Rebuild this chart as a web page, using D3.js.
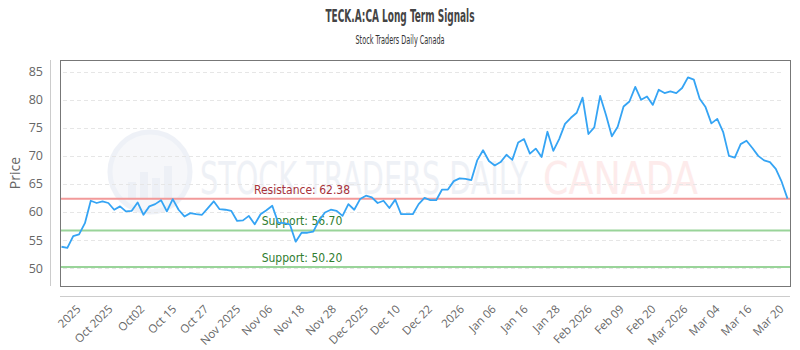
<!DOCTYPE html>
<html>
<head>
<meta charset="utf-8">
<script src="https://cdn.jsdelivr.net/npm/d3@7"></script>
<style>
  body { margin: 0; background: #fff; }
  svg { display: block; }
</style>
</head>
<body>
<script>
// closing prices, one per trading day
var prices = [
  53.8, 53.6, 55.7, 56.0, 58.0, 62.0, 61.6, 61.9, 61.6, 60.4,
  61.0, 60.1, 60.2, 61.7, 59.5, 61.0, 61.4, 62.1, 60.1, 62.3,
  60.4, 59.2, 59.8, 59.6, 59.5, 60.7, 61.9, 60.5, 60.4, 60.2,
  58.4, 58.5, 59.3, 57.8, 59.6, 60.3, 61.1, 58.1, 58.0, 57.8,
  54.7, 56.3, 56.3, 56.5, 58.5, 59.9, 60.4, 60.2, 59.3, 61.4,
  60.4, 62.3, 62.9, 62.6, 61.6, 62.0, 60.7, 62.2, 59.6, 59.6,
  59.6, 61.4, 62.5, 62.1, 62.1, 64.0, 64.0, 65.5, 66.0, 65.9,
  65.7, 69.2, 71.0, 69.1, 68.3, 68.9, 70.2, 69.3, 72.4, 73.0,
  70.4, 71.3, 69.8, 74.3, 70.9, 73.0, 75.7, 76.8, 77.7, 80.4,
  73.9, 75.1, 80.7, 77.3, 73.5, 75.2, 78.8, 79.7, 82.3, 80.0,
  80.6, 79.1, 81.8, 81.2, 81.5, 81.2, 82.1, 84.0, 83.6, 80.2,
  78.7, 75.8, 76.6, 74.3, 70.0, 69.7, 72.1, 72.7, 71.4, 70.0,
  69.2, 68.9, 67.7, 65.4, 62.38
];

var dateLabels = ["2025", "Oct 2025", "Oct02", "Oct 15", "Oct 27", "Nov 2025", "Nov 06",
  "Nov 18", "Nov 28", "Dec 2025", "Dec 10", "Dec 22", "2026", "Jan 06", "Jan 16",
  "Jan 28", "Feb 2026", "Feb 09", "Feb 20", "Mar 2026", "Mar 04", "Mar 16", "Mar 20"];

var yTicks = [50, 55, 60, 65, 70, 75, 80, 85];

var levelNames = ["Resistance", "Support", "Support"];
var levelValues = [62.38, 56.70, 50.20];

var width = 800, height = 350;
var plot = { left: 60, right: 790, top: 60, bottom: 286 };

var svg = d3.select("body")
    .append("svg")
    .attr("width", width)
    .attr("height", height)
    .style("font-family", "'Open Sans', sans-serif");

var x = d3.scaleLinear()
    .domain([0, prices.length - 1])
    .range([61.5, 787.5]);

var y = d3.scaleLinear()
    .domain([46.8, 87.1])
    .range([plot.bottom, plot.top]);

var xLab = d3.scalePoint()
    .domain(dateLabels)
    .range([79, 782]);

// titles
svg.append("text")
    .attr("x", 400)
    .attr("y", 22)
    .attr("text-anchor", "middle")
    .attr("textLength", 149)
    .attr("lengthAdjust", "spacingAndGlyphs")
    .style("font-family", "'DejaVu Sans Condensed', 'DejaVu Sans', sans-serif")
    .style("font-weight", "bold")
    .style("font-size", "17px")
    .style("fill", "#444")
    .text("TECK.A:CA Long Term Signals");

svg.append("text")
    .attr("x", 400)
    .attr("y", 44)
    .attr("text-anchor", "middle")
    .attr("textLength", 89)
    .attr("lengthAdjust", "spacingAndGlyphs")
    .style("font-family", "'DejaVu Sans Condensed', 'DejaVu Sans', sans-serif")
    .style("font-size", "12.5px")
    .style("fill", "#333")
    .text("Stock Traders Daily Canada");

// watermark
var wm = svg.append("g").attr("opacity", 0.5);
wm.append("circle")
    .attr("cx", 150).attr("cy", 172).attr("r", 40)
    .attr("fill", "#eef1f7")
    .attr("stroke", "#dfe5f0")
    .attr("stroke-width", 5);
[[128, 18], [140, 28], [152, 22], [164, 34]].forEach(function (b) {
    wm.append("rect")
        .attr("x", b[0]).attr("y", 200 - b[1])
        .attr("width", 8).attr("height", b[1])
        .attr("fill", "#dde3ee");
});
wm.append("text")
    .attr("x", 200).attr("y", 194)
    .attr("textLength", 328)
    .attr("lengthAdjust", "spacingAndGlyphs")
    .style("font-family", "'DejaVu Sans Condensed', sans-serif")
    .style("font-size", "44px")
    .style("fill", "#dfe4ee")
    .text("STOCK TRADERS DAILY");
wm.append("text")
    .attr("x", 543).attr("y", 194)
    .attr("textLength", 155)
    .attr("lengthAdjust", "spacingAndGlyphs")
    .style("font-family", "'DejaVu Sans Condensed', sans-serif")
    .style("font-size", "44px")
    .style("fill", "#fcd9d9")
    .text("CANADA");

// grid
svg.append("g")
    .selectAll("line")
    .data(yTicks)
    .enter()
    .append("line")
    .attr("x1", 63)
    .attr("x2", 784)
    .attr("y1", function (d) { return Math.round(y(d)) + 0.5; })
    .attr("y2", function (d) { return Math.round(y(d)) + 0.5; })
    .attr("stroke", "#e6e6e6")
    .attr("stroke-dasharray", "4,3");

// y axis
var yAxis = svg.append("g")
    .attr("transform", "translate(50,0)")
    .call(d3.axisLeft(y).tickValues(yTicks).tickSize(0).tickPadding(7));
yAxis.select(".domain").remove();
yAxis.selectAll("text")
    .style("font-family", "'Open Sans', sans-serif")
    .style("font-size", "12.5px")
    .style("fill", "#666");

svg.append("line")
    .attr("x1", 50.5).attr("x2", 50.5)
    .attr("y1", plot.top).attr("y2", plot.bottom)
    .attr("stroke", "#ccc");

svg.append("text")
    .attr("transform", "translate(20,173) rotate(-90)")
    .attr("text-anchor", "middle")
    .style("font-size", "14px")
    .style("fill", "#666")
    .text("Price");

// x axis
var xAxis = svg.append("g")
    .attr("transform", "translate(0,296)")
    .call(d3.axisBottom(xLab).tickSize(0).tickPadding(0));
xAxis.select(".domain").remove();
xAxis.selectAll("text")
    .attr("text-anchor", "end")
    .attr("dy", "0.35em")
    .attr("transform", "translate(-1,11) rotate(-45)")
    .style("font-family", "'Open Sans', sans-serif")
    .style("font-size", "11.5px")
    .style("fill", "#666");

svg.append("line")
    .attr("x1", plot.left).attr("x2", plot.right)
    .attr("y1", 296.5).attr("y2", 296.5)
    .attr("stroke", "#ccc");

// support / resistance
levelValues.forEach(function (v, i) {
    var isRes = levelNames[i] === "Resistance";
    svg.append("line")
        .attr("x1", plot.left).attr("x2", plot.right)
        .attr("y1", y(v)).attr("y2", y(v))
        .attr("stroke", isRes ? "#f29a9a" : "#99d499")
        .attr("stroke-width", 2);
    svg.append("text")
        .attr("x", 302)
        .attr("y", y(v) - 5)
        .attr("text-anchor", "middle")
        .style("font-family", "'DejaVu Sans Condensed', sans-serif")
        .style("font-size", "12px")
        .style("fill", isRes ? "#a8323a" : "#2f7d2f")
        .text(levelNames[i] + ": " + v.toFixed(2));
});

// price line
var line = d3.line()
    .x(function (d, i) { return x(i); })
    .y(function (d) { return y(d); });

svg.append("path")
    .datum(prices)
    .attr("d", line)
    .attr("fill", "none")
    .attr("stroke", "#35a4f4")
    .attr("stroke-width", 1.8)
    .attr("stroke-linejoin", "round");

// plot frame
svg.append("rect")
    .attr("x", plot.left + 0.5)
    .attr("y", plot.top + 0.5)
    .attr("width", plot.right - plot.left)
    .attr("height", plot.bottom - plot.top)
    .attr("fill", "none")
    .attr("stroke", "#777");
</script>
</body>
</html>
